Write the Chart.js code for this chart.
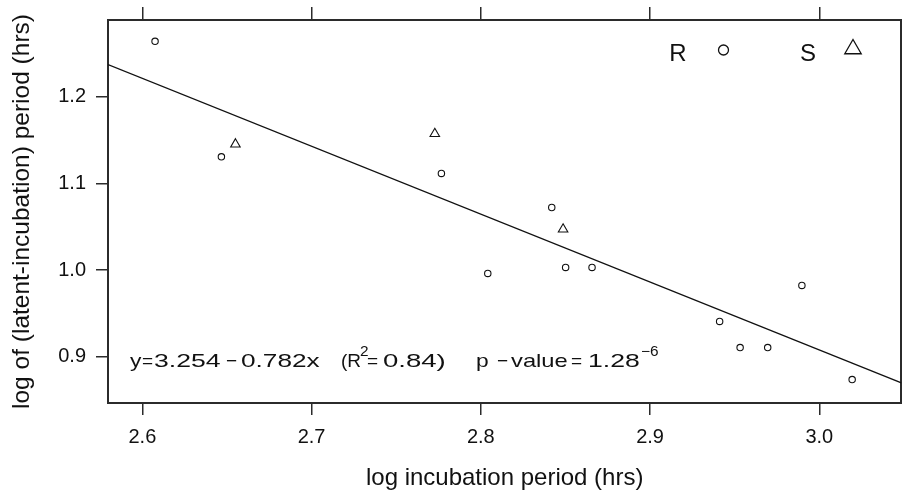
<!DOCTYPE html>
<html>
<head>
<meta charset="utf-8">
<script src="https://cdn.jsdelivr.net/npm/chart.js@4.4.1/dist/chart.umd.min.js"></script>
<style>
  html, body { margin: 0; padding: 0; background: #fff; overflow: hidden; }
  /* a few px wider than the window so the right frame lands at x=901 */
  #wrap { width: 908px; height: 496px; }
</style>
</head>
<body>
<div id="wrap"><canvas id="chart"></canvas></div>
<script>
// R isolates (circles): log incubation period vs log(latent - incubation) period
const rX = [2.6075, 2.6467, 2.7767, 2.8041, 2.8419, 2.8501, 2.8657, 2.9411, 2.9532, 2.9695, 2.9897, 3.0194];
const rY = [1.2634, 1.1304, 1.1113, 0.9962, 1.0721, 1.0031, 1.0031, 0.9409, 0.9108, 0.9108, 0.9824, 0.8740];
// S isolates (triangles)
const sX = [2.6550, 2.7728, 2.8486];
const sY = [1.1450, 1.1570, 1.0470];
// fitted line, read at the two edges of the plot
const fitX = [2.5797, 3.0485];
const fitY = [1.2367, 0.8701];

const xTicks = [2.6, 2.7, 2.8, 2.9, 3.0];
const yTicks = [0.9, 1.0, 1.1, 1.2];
const xRange = [2.5797, 3.0485];
const yRange = [0.847, 1.288];

const FONT = "'Liberation Sans', Arial, sans-serif";
const INK = '#111';
const AXIS = '#2b2b2b';

Chart.defaults.font.family = FONT;
Chart.defaults.color = INK;

const toPts = (xs, ys) => xs.map((x, i) => ({ x: x, y: ys[i] }));

// one side of the box: tick marks outside, frame line, no grid inside
function boxAxis(pos, ticks, range, size, tickLen, showLabels) {
    const horiz = pos === 'top' || pos === 'bottom';
    return {
        type: 'linear',
        axis: horiz ? 'x' : 'y',
        position: pos,
        min: range[0],
        max: range[1],
        afterBuildTicks: s => { s.ticks = ticks.map(v => ({ value: v })); },
        afterFit: s => {
            if (horiz) s.height = size; else s.width = size;
            // no extra room for overhanging labels
            s.paddingLeft = s.paddingRight = s.paddingTop = s.paddingBottom = 0;
        },
        grid: { drawOnChartArea: false, drawTicks: true, tickLength: tickLen, color: AXIS, lineWidth: 1.5 },
        border: { display: true, color: AXIS, width: 2 },
        ticks: {
            display: showLabels,
            color: INK,
            font: { size: 20 },
            padding: 10,
            maxRotation: 0,
            autoSkip: false,
            callback: v => Number(v).toFixed(1)
        }
    };
}

const xAxis = boxAxis('bottom', xTicks, xRange, 93, 12, true);
xAxis.title = { display: true, text: 'log incubation period (hrs)', color: INK, font: { size: 24 }, padding: { top: 0, bottom: 3 } };
const yAxis = boxAxis('left', yTicks, yRange, 108, 12, true);
yAxis.title = { display: true, text: 'log of (latent-incubation) period (hrs)', color: INK, font: { size: 24.5 }, padding: { top: 8, bottom: 0 } };

// annotation text runs: [text, x, horizontal stretch]
const noteRuns = [['y', 130, 1.2], ['=', 142, 1.0], ['3.254', 154, 1.4], ['\u2212', 226, 1.0], ['0.782x', 241, 1.38],
                  ['(R', 341, 1.0], ['=', 367, 1.0], ['0.84)', 383, 1.45],
                  ['p', 476, 1.2], ['\u2212', 497, 1.0], ['value', 511, 1.25], ['=', 571, 1.0], ['1.28', 588, 1.4]];
const noteSups = [['2', 360, 1.1], ['\u22126', 641, 1.1]];

const notesPlugin = {
    id: 'notes',
    afterDraw(chart) {
        const ctx = chart.ctx;
        const put = (txt, x, y, size, sx) => {
            ctx.save();
            ctx.font = size + 'px ' + FONT;
            ctx.translate(x, y);
            ctx.scale(sx, 1);
            ctx.fillText(txt, 0, 0);
            ctx.restore();
        };
        ctx.save();
        ctx.fillStyle = INK;
        ctx.textBaseline = 'alphabetic';
        const base = 367;
        noteRuns.forEach(r => put(r[0], r[1], base, 19, r[2]));
        noteSups.forEach(r => put(r[0], r[1], base - 11, 14, r[2]));

        // key in the top right corner
        ctx.textAlign = 'center';
        put('R', 678, 61, 24, 1);
        put('S', 808, 61, 24, 1);
        ctx.strokeStyle = INK;
        ctx.fillStyle = 'rgba(0,0,0,0)';
        ctx.lineWidth = 1.3;
        Chart.helpers.drawPoint(ctx, { pointStyle: 'circle', radius: 5, borderWidth: 1.3, rotation: 0 }, 723.5, 50);
        Chart.helpers.drawPoint(ctx, { pointStyle: 'triangle', radius: 9.5, borderWidth: 1.3, rotation: 0 }, 853, 49);
        ctx.restore();
    }
};

new Chart(document.getElementById('chart'), {
    type: 'scatter',
    data: {
        datasets: [
            {
                label: 'fit',
                data: toPts(fitX, fitY),
                showLine: true,
                borderColor: INK,
                borderWidth: 1.4,
                pointRadius: 0,
                fill: false
            },
            {
                label: 'R',
                data: toPts(rX, rY),
                pointStyle: 'circle',
                pointRadius: 3.2,
                borderColor: INK,
                borderWidth: 1.1,
                backgroundColor: 'rgba(0,0,0,0)'
            },
            {
                label: 'S',
                data: toPts(sX, sY),
                pointStyle: 'triangle',
                pointRadius: 5.5,
                borderColor: INK,
                borderWidth: 1.1,
                backgroundColor: 'rgba(0,0,0,0)'
            }
        ]
    },
    options: {
        responsive: true,
        maintainAspectRatio: false,
        animation: false,
        events: [],
        layout: { padding: 0 },
        scales: {
            x: xAxis,
            x2: boxAxis('top', xTicks, xRange, 20, 13, false),
            y: yAxis,
            y2: boxAxis('right', yTicks, yRange, 1, 12, false)
        },
        plugins: {
            legend: { display: false },
            tooltip: { enabled: false }
        }
    },
    plugins: [notesPlugin]
});
</script>
</body>
</html>
